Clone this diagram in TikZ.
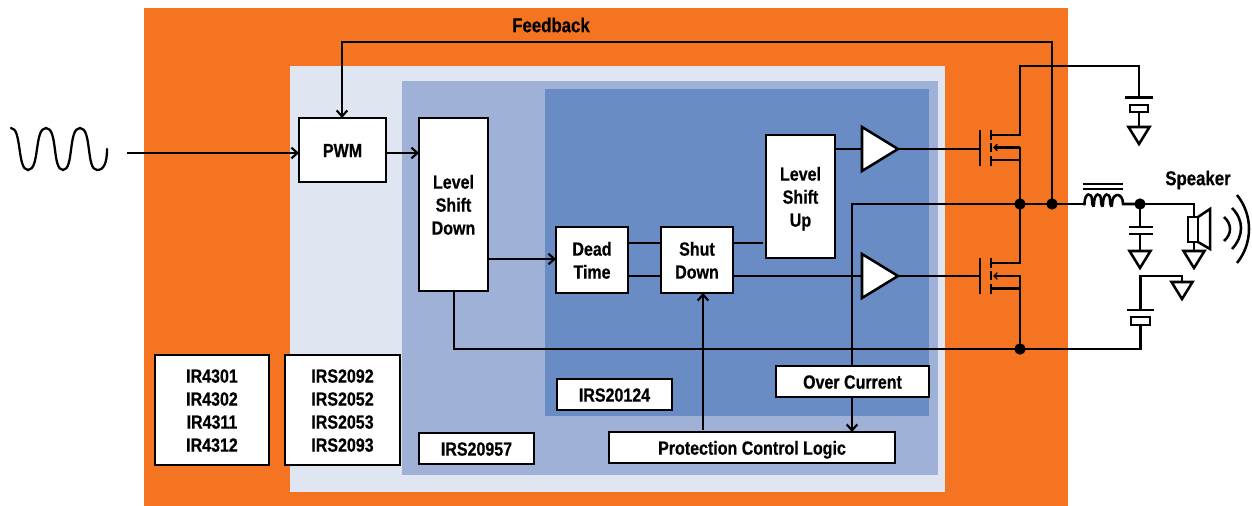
\documentclass[tikz,border=0pt]{standalone}
\usepackage{fontspec}
\setmainfont[FakeStretch=0.84,BoldFeatures={FakeBold=0.5}]{Liberation Sans}
\usetikzlibrary{arrows.meta,calc}
\definecolor{orng}{HTML}{F57421}
\definecolor{lt}{HTML}{DFE6F2}
\definecolor{md}{HTML}{9FB1D6}
\definecolor{dk}{HTML}{6A8CC5}
\tikzset{
  wire/.style={line width=1.9pt,line cap=butt,line join=miter},
  arr/.style={wire,-{Straight Barb[length=4.5pt,width=8pt,line width=1.6pt]}},
  smallarr/.style={wire,-{Straight Barb[length=2.5pt,width=5pt,line width=1pt]}},
  blk/.style={draw=black,fill=white,line width=2.2pt,inner sep=0pt,outer sep=0pt,
     font=\fontsize{14.3pt}{17.25pt}\selectfont\bfseries},
  dot/.style={circle,fill=black,draw=none,minimum size=8.5pt,inner sep=0pt,outer sep=0pt},
  tri/.style={wire,fill=white,line join=miter},
  lbl/.style={font=\fontsize{15pt}{17.25pt}\selectfont\bfseries,inner sep=0pt,outer sep=0pt},
  gndsym/.style={line width=1.9pt,line join=miter},
}
\newcommand{\blockbox}[6]{\node[blk,minimum width={(#4-#2)*.75pt},minimum height={(#5-#3)*.75pt}] (#1) at ({(#2+#4)/2},{(#3+#5)/2}) {\raisebox{-1.9pt}[\height][\depth]{\begin{tabular}{@{}c@{}}#6\end{tabular}}};}
\newcommand{\gndat}[3]{\coordinate (#1) at (#2,#3); \draw[gndsym] (#2-10.5,#3) -- (#2+10.5,#3) -- (#2,#3+17) -- cycle;}
\begin{document}
\begin{tikzpicture}[x=.75pt,y=-.75pt]
\useasboundingbox (0,0) rectangle (1252,506);
% panels
\fill[orng] (144,8) rectangle (1068,506);
\fill[lt] (290,66) rectangle (945,492);
\fill[md] (402,81) rectangle (938,475);
\fill[dk] (545,89) rectangle (929,416);
% signal
\draw[line width=1.7pt,line cap=round] (11,128) .. controls (22,128) and (17,170) .. (28,170) .. controls (40,170) and (34,128) .. (46,128) .. controls (58,128) and (52,170) .. (63,170) .. controls (74,170) and (68,128) .. (80,128) .. controls (92,128) and (86,170) .. (97,170) .. controls (104,170) and (107,163) .. (107,149);
% blocks
\blockbox{pwm}{299}{118}{386}{182}{PWM}
\blockbox{lsd}{419}{118}{488}{291}{Level\\Shift\\Down}
\blockbox{dead}{556}{227}{628}{293}{Dead\\Time}
\blockbox{shut}{661}{227}{733}{293}{Shut\\Down}
\blockbox{lsu}{766}{135}{835}{258}{Level\\Shift\\Up}
\blockbox{over}{776}{366}{929}{397}{Over Current}
\blockbox{prot}{609}{432}{895}{463}{Protection Control Logic}
\blockbox{irsa}{557}{379}{672}{410}{IRS20124}
\blockbox{irsb}{419}{433}{534}{464}{IRS20957}
\blockbox{irc}{155}{355}{269}{465}{IR4301\\IR4302\\IR4311\\IR4312}
\blockbox{ird}{285}{355}{400}{465}{IRS2092\\IRS2052\\IRS2053\\IRS2093}
\node[lbl] (fb) at (551,25) {Feedback};
\node[lbl] (spk) at (1198,180) {Speaker};
% junctions
\coordinate (a1i) at (862,149); \coordinate (a1o) at (898,149);
\coordinate (a2i) at (862,276); \coordinate (a2o) at (898,276);
\coordinate (g1) at (980,149); \coordinate (g2) at (980,276);
\node[dot] (j1) at (1020,204) {};
\node[dot] (j2) at (1052,204) {};
\node[dot] (j3) at (1140,204) {};
\node[dot] (j4) at (1020,349) {};
\coordinate (in) at (127,153);
% connectors
\draw[arr] (in) -- (pwm.west |- in);
\draw[arr] (pwm.east |- 0,153) -- (lsd.west |- 0,153);
\draw[arr] (j2.center) -- (1052,42) -| (pwm.north -| 342,0);
\draw[arr] (lsd.east |- 0,259) -- (dead.west |- 0,259);
\draw[wire] (dead.east |- 0,243) -- (shut.west |- 0,243);
\draw[wire] (dead.east |- 0,276) -- (shut.west |- 0,276);
\draw[wire] (shut.east |- 0,243) -- (763,243);
\draw[wire] (shut.east |- 0,276) -- (a2i);
\draw[wire] (lsu.east |- a1i) -- (a1i);
\draw[wire] (a1o) -- (g1);
\draw[wire] (a2o) -- (g2);
\draw[arr] (prot.north -| 703,0) ++(0,-2) -- (shut.south -| 703,0);
\draw[arr] (over.south -| 852,0) -- (prot.north -| 852,0);
\draw[wire] (over.north -| 852,0) -- (852,204) -- (j2.center);
\draw[wire] (lsd.south -| 454,0) -- (454,349) -- (j4.center);
% amps
\draw[tri] (a1i) ++(0,-22) -- (a1o) -- ($(a1i)+(0,22)$) -- cycle;
\draw[tri] (a2i) ++(0,-22) -- (a2o) -- ($(a2i)+(0,22)$) -- cycle;
% top MOSFET
\draw[wire] (980,130) -- (980,166);
\draw[wire] (991,130) -- (991,140) (991,143) -- (991,152) (991,156) -- (991,166);
\draw[wire] (991,135) -- (1020,135) -- (1020,66) -- (1139,66) -- (1139,97);
\draw[smallarr] (1020,147.5) -- (993,147.5);
\draw[wire] (1020,146.8) -- (j1.center);
\draw[wire] (991,160) -- (1020,160);
% bottom MOSFET
\draw[wire] (980,258) -- (980,294);
\draw[wire] (991,258) -- (991,268) (991,271) -- (991,280) (991,284) -- (991,294);
\draw[wire] (991,263) -- (1020,263) -- (j1.center);
\draw[smallarr] (1020,276) -- (993,276);
\draw[wire] (1020,275.3) -- (j4.center);
\draw[wire] (991,288.5) -- (1020,288.5);
% top output cap
\draw[wire] (1125,97.5) -- (1153,97.5);
\draw[wire] (1130,105) rectangle (1148,112);
\draw[wire] (1139,112) -- (1139,127);
\gndat{gt}{1139}{127}
% main bus and inductor
\draw[wire] (j1.center) -- (j2.center) -- (1083,204);
\draw[wire] (1083,204) -- (1084.5,204) .. controls (1084.5,192) and (1092,192) .. (1092,200) .. controls (1092,207) and (1094,207) .. (1094,204)
  (1094,204) .. controls (1094,192) and (1101,192) .. (1101,200) .. controls (1101,207) and (1103,207) .. (1103,204)
  (1103,204) .. controls (1103,192) and (1110,192) .. (1110,200) .. controls (1110,207) and (1112,207) .. (1112,204)
  (1112,204) .. controls (1112,192) and (1123,192) .. (1123,204) -- (j3.center);
\draw[line width=1.5pt] (1083,184) -- (1123,184) (1083,188.5) -- (1123,188.5);
\draw[wire] (j3.center) -- (1194,204) -- (1194,217);
% speaker
\draw[wire] (1188,217) rectangle (1198,242);
\draw[wire] (1198,217) -- (1210,209) -- (1210,249) -- (1198,242);
\draw[wire] (1194,242) -- (1194,251);
\gndat{gs}{1194}{251}
\draw[wire] (1224,217) .. controls (1232,224) and (1232,234) .. (1224,241);
\draw[wire] (1232,208) .. controls (1244,220) and (1244,236) .. (1232,249);
\draw[wire] (1237,195) .. controls (1253,215) and (1253,243) .. (1237,263);
% filter cap
\draw[wire] (j3.center) -- (1140,227);
\draw[wire] (1129,227) -- (1153,227) (1129,234) -- (1153,234);
\draw[wire] (1140,234) -- (1140,251);
\gndat{gc}{1140}{251}
% lower output cap
\draw[wire] (j4.center) -- (1140.5,349) -- (1140.5,325);
\draw[wire] (1131,317) rectangle (1150,325);
\draw[wire] (1127,310) -- (1154,310);
\draw[wire] (1140.5,310) -- (1140.5,276) -- (1182,276) -- (1182,282);
\gndat{gb}{1182}{282}
\end{tikzpicture}
\end{document}
